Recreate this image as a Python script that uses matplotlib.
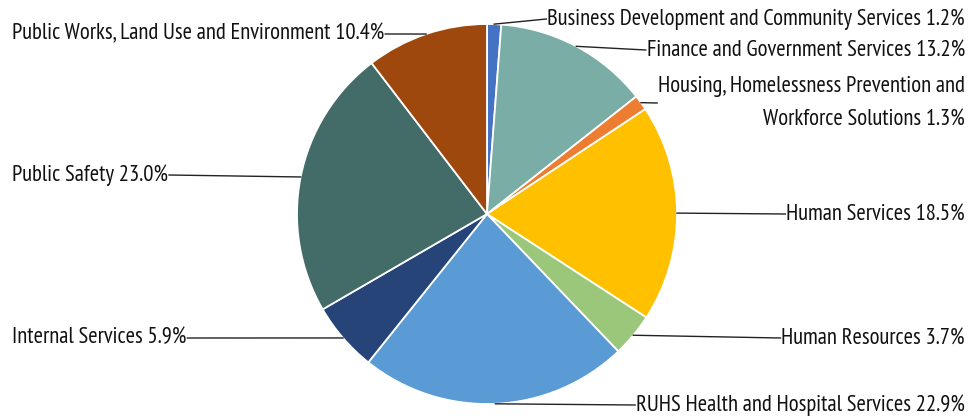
import numpy as np
import matplotlib.pyplot as plt

plt.rcParams['font.family'] = ['PT Sans Narrow', 'Roboto Condensed', 'DejaVu Sans']

# data, clockwise from 12 o'clock
labels = ['Business Development and Community Services',
          'Finance and Government Services',
          'Housing, Homelessness Prevention and\nWorkforce Solutions',
          'Human Services',
          'Human Resources',
          'RUHS Health and Hospital Services',
          'Internal Services',
          'Public Safety',
          'Public Works, Land Use and Environment']
shares = [1.2, 13.2, 1.3, 18.5, 3.7, 22.9, 5.9, 23.0, 10.4]
colors = ['#4472C4', '#7AADA6', '#ED7D31', '#FFC000', '#9BC77A',
          '#5B9BD5', '#264478', '#436C68', '#9E480E']

# label anchor (pixel coords from top-left) and side
label_pos = [(965, 19, 'right'), (965, 50, 'right'), (965, 103, 'right'),
             (965, 214, 'right'), (965, 338, 'right'), (965, 405, 'right'),
             (12, 338, 'left'), (12, 175, 'left'), (12, 34, 'left')]

W, H = 969, 420
fig = plt.figure(figsize=(W / 100, H / 100), dpi=100)
ax = fig.add_axes([0, 0, 1, 1])

cx, cy, r = 487, 214, 190
# y axis is flipped, so counterclock=True draws clockwise on screen
wedges, _ = ax.pie(shares, colors=colors, startangle=-90, counterclock=True,
                   center=(cx, cy), radius=r, frame=True,
                   wedgeprops=dict(edgecolor='white', linewidth=1.3))
ax.set_xlim(0, W)
ax.set_ylim(H, 0)
ax.axis('off')

fig.canvas.draw()
renderer = fig.canvas.get_renderer()
inv = ax.transData.inverted()

# size the font so the longest label spans about 417 px like the original
probe = ax.text(0, 0, f'{labels[0]} {shares[0]:.1f}%', fontsize=12)
fs = 12 * 417 / probe.get_window_extent(renderer).width
probe.remove()

for w, lab, val, (tx, ty, side) in zip(wedges, labels, shares, label_pos):
    ang = np.deg2rad((w.theta1 + w.theta2) / 2)
    px = cx + r * np.cos(ang)
    py = cy + r * np.sin(ang)
    txt = ax.text(tx, ty, f'{lab} {val:.1f}%', ha=side, va='center',
                  fontsize=fs, color='#111111', linespacing=1.7,
                  multialignment='right' if side == 'right' else 'left')
    bb = txt.get_window_extent(renderer)
    (x0, _), (x1, _) = inv.transform([[bb.x0, bb.y0], [bb.x1, bb.y1]])
    ex = x0 - 1 if side == 'right' else x1 + 1
    ax.plot([px, ex], [py, ty], color='#222222', lw=1.0)

fig.savefig('out.png', dpi=100)
